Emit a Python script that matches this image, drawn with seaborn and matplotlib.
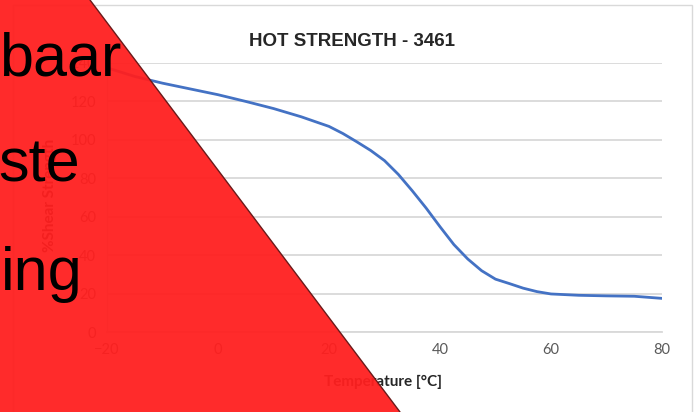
import matplotlib
matplotlib.use("Agg")
import matplotlib.pyplot as plt
import seaborn as sns
import pandas as pd
from matplotlib.patches import Polygon, Rectangle
from matplotlib.lines import Line2D

# values
temperature = [-20, -15, -10, -5, 0, 5, 10, 15, 20, 22.5, 25, 27.5, 30, 32.5, 35, 37.5,
               40, 42.5, 45, 47.5, 50, 52.5, 55, 57.5, 60, 65, 70, 75, 80]
shear_pct = [137.5, 133.0, 129.5, 126.5, 123.5, 120.0, 116.3, 112.0, 107.0, 103.3, 99.0,
             94.5, 89.2, 82.0, 73.5, 64.5, 54.8, 45.5, 38.0, 31.9, 27.5, 25.2, 22.8,
             21.0, 19.8, 19.1, 18.8, 18.6, 17.5]
x_ticks = [-20, 0, 20, 40, 60, 80]
y_ticks = [0, 20, 40, 60, 80, 100, 120, 140]
banner_words = ["baar", "ste", "ing"]

W, H = 699, 412
df = pd.DataFrame({"temp": temperature, "shear": shear_pct})

sns.set_style("white")
plt.rcParams["font.family"] = ["Lato", "DejaVu Sans"]

fig = plt.figure(figsize=(W / 100, H / 100), dpi=100)
ax = fig.add_axes([107 / W, 1 - 332 / H, (662 - 107) / W, (332 - 63) / H])

sns.lineplot(data=df, x="temp", y="shear", ax=ax, color="#4472C4", lw=2.0)

ax.set_xlim(-20, 80)
ax.set_ylim(0, 140)
ax.set_xticks(x_ticks)
ax.set_yticks(y_ticks)
ax.tick_params(axis="both", length=0, labelsize=10.5, labelcolor="#595959", pad=8)
ax.yaxis.grid(True, color="#d9d9d9", lw=1.3)
ax.set_axisbelow(True)
for s in ["top", "right"]:
    ax.spines[s].set_visible(False)
ax.spines["bottom"].set_color("#d9d9d9")
ax.spines["bottom"].set_linewidth(1.3)
ax.spines["left"].set_color("#d9d9d9")
ax.spines["left"].set_linewidth(0.8)

ax.set_xlabel("")
ax.set_ylabel("")
fig.text(383 / W, 1 - 382 / H, "Temperature [°C]", ha="center", va="center",
         fontsize=11, fontweight="bold", color="#262626")
fig.text(50 / W, 1 - 195 / H, "%Shear Strength", ha="center", va="center",
         rotation=90, fontsize=11, fontweight="bold", color="#262626")
fig.text(352 / W, 1 - 42 / H, "HOT STRENGTH - 3461", ha="center", va="center",
         fontsize=13.5, fontweight="bold", family=["Liberation Sans", "DejaVu Sans"])

# chart frame
fig.patches.append(Rectangle((13 / W, -0.02), (692 - 13) / W, 1 - 5 / H + 0.02,
                             transform=fig.transFigure, fill=False,
                             edgecolor="#d9d9d9", lw=1.0, zorder=1))

# red corner banner on top of the chart
tri = [(0, 0), (90, 0), (400, H), (0, H)]
fig.patches.append(Polygon([(x / W, 1 - y / H) for x, y in tri], closed=True,
                           transform=fig.transFigure, facecolor="#FF1F1F",
                           edgecolor="none", alpha=0.95, zorder=5))
fig.lines.append(Line2D([90 / W, 400 / W], [1, 0], transform=fig.transFigure,
                        color="#6a1a1a", lw=1.0, zorder=6))

for word, xr, yb in zip(banner_words, [121, 80, 83], [75, 182, 290]):
    fig.text(xr / W, 1 - yb / H, word, ha="right", va="baseline", fontsize=44,
             family=["Liberation Sans", "DejaVu Sans"], color="black", zorder=7)

fig.savefig("out.png", dpi=100)
